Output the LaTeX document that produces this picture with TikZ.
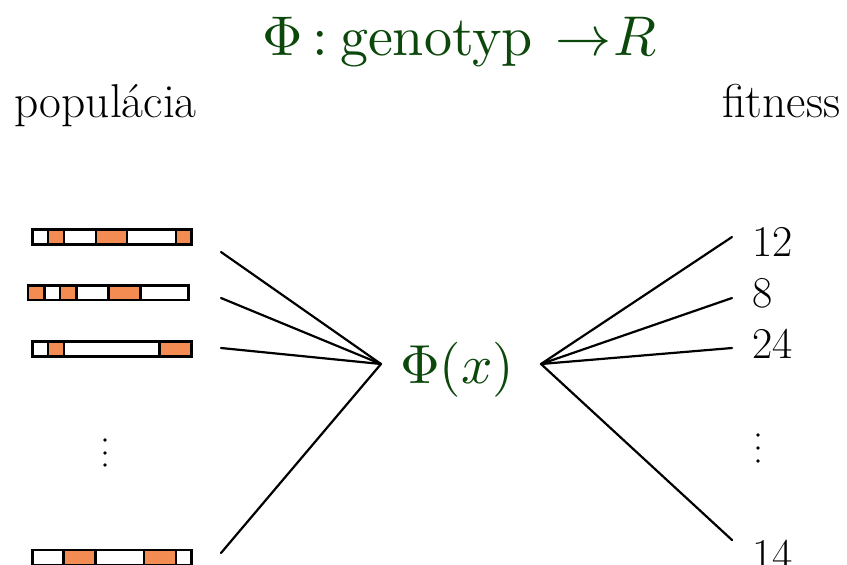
\documentclass[tikz,border=0pt]{standalone}
\usepackage{graphicx}
\usepackage{fontspec}
\definecolor{phigreen}{RGB}{12,72,12}
\definecolor{geneorange}{RGB}{242,140,82}
\begin{document}
\begin{tikzpicture}[x=1pt,y=-1pt,
  lbl/.style={inner sep=0pt, anchor=base west, font=\fontsize{44}{50}\selectfont},
  head/.style={inner sep=0pt, anchor=base west, font=\fontsize{47.5}{52}\selectfont},
  link/.style={line width=2.2pt, line cap=round},
  gene/.style={fill=geneorange},
  chromo/.style={line width=2.2pt, draw=black},
  dotmark/.style={fill=black, draw=none}]
\useasboundingbox (0,0) rectangle (847,565);

% title (set at 10pt and scaled up, so that the math scales with it)
\node[inner sep=0pt, anchor=base west, text=phigreen] (title) at (262,55)
  {\scalebox{5.6}{\fontsize{10}{12}\selectfont
   $\Phi$\hspace{1.8pt}$:$\hspace{2.1pt}genotyp\hspace{4pt}$\rightarrow$\hspace{0.3pt}$R$}};

% column headings
\node[head] (pop) at (14,117) {populácia};
\node[head] (fit) at (722,117) {fitness};

% chromosomes: orange genes, then outline and dividers
% bar 1
\fill[gene] (48,229.5) rectangle (64,244.5);
\fill[gene] (96,229.5) rectangle (127,244.5);
\fill[gene] (176,229.5) rectangle (191.5,244.5);
\draw[chromo] (32.5,229.5) rectangle (191.5,244.5);
\foreach \x in {48,64,96,127,176} \draw[chromo] (\x,229.5) -- (\x,244.5);
% bar 2
\fill[gene] (28,285.5) rectangle (44.5,300);
\fill[gene] (60,285.5) rectangle (76.5,300);
\fill[gene] (108.5,285.5) rectangle (140.5,300);
\draw[chromo] (28,285.5) rectangle (188.5,300);
\foreach \x in {44.5,60,76.5,108.5,140.5} \draw[chromo] (\x,285.5) -- (\x,300);
% bar 3
\fill[gene] (48,341.5) rectangle (64,356.5);
\fill[gene] (159.5,341.5) rectangle (191.5,356.5);
\draw[chromo] (32.5,341.5) rectangle (191.5,356.5);
\foreach \x in {48,64,159.5} \draw[chromo] (\x,341.5) -- (\x,356.5);
% bar 4
\fill[gene] (63.5,550) rectangle (95.5,565.5);
\fill[gene] (144,550) rectangle (176,565.5);
\draw[chromo] (32.5,550) rectangle (191.5,565.5);
\foreach \x in {63.5,95.5,144,176} \draw[chromo] (\x,550) -- (\x,565.5);

% vertical ellipses
\foreach \y in {440,453,465} \fill[dotmark] (105,\y) circle (1.8);
\foreach \y in {435,448,461} \fill[dotmark] (758,\y) circle (1.8);

% fitness values
\node[lbl] (f1) at (752,256) {12};
\node[lbl] (f2) at (752,307) {8};
\node[lbl] (f3) at (752,358) {24};
\node[lbl] (f4) at (752,569) {14};

% fitness function
\node[inner sep=0pt, anchor=base west, text=phigreen] (phix) at (400,383)
  {\scalebox{5.5}{\fontsize{10}{12}\selectfont $\Phi(x)$}};

% connector hubs and free ends
\coordinate (hubL) at (381,364);
\coordinate (hubR) at (541,364);
\coordinate (p1) at (221,252);
\coordinate (p2) at (221,298);
\coordinate (p3) at (221,348);
\coordinate (p4) at (221,553);
\coordinate (q1) at (732,237);
\coordinate (q2) at (732,298);
\coordinate (q3) at (732,348);
\coordinate (q4) at (732,540);

\foreach \i in {1,2,3,4} {
  \draw[link] (p\i) -- (hubL);
  \draw[link] (hubR) -- (q\i);
}
\end{tikzpicture}
\end{document}
